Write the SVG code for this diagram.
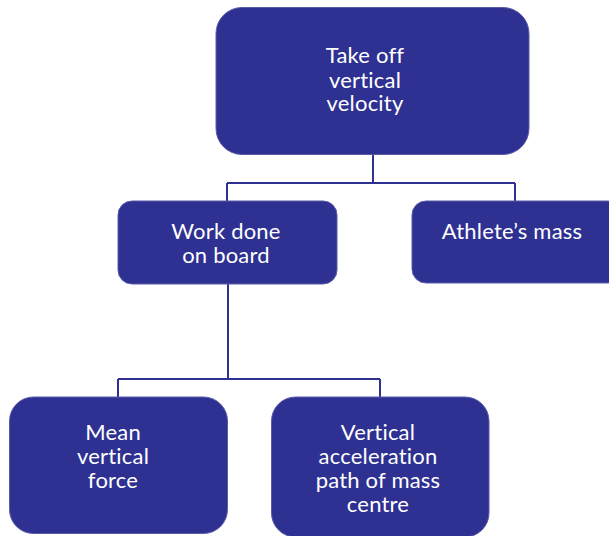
<svg xmlns="http://www.w3.org/2000/svg" width="609" height="536" viewBox="0 0 609 536">
<style>
.box{fill:#2E3192;stroke:#5a5ca8;stroke-width:1}
.t{font-family:Lato,"Open Sans",sans-serif;font-size:22px;letter-spacing:0.2px;fill:#ffffff;text-anchor:middle}
.c{fill:none;stroke:#2E3192;stroke-width:2}
</style>
<rect width="609" height="536" fill="#ffffff"/>
<g id="connectors">
<path class="c" d="M373 154V183M227 183H515M227 183V201M515 183V201"/>
<path class="c" d="M228 284V379M118 379H380M118 379V397M380 379V397"/>
</g>
<g id="n1">
<rect class="box" x="216" y="7.5" width="313" height="147" rx="26"/>
<text class="t" x="365" y="63">Take off</text>
<text class="t" x="365" y="88">vertical</text>
<text class="t" x="365" y="111">velocity</text>
</g>
<g id="n2">
<rect class="box" x="118" y="201" width="219" height="83" rx="14"/>
<text class="t" x="226" y="239">Work done</text>
<text class="t" x="226" y="263">on board</text>
</g>
<g id="n3">
<rect class="box" x="412" y="201" width="210" height="82" rx="14"/>
<text class="t" x="512" y="239">Athlete’s mass</text>
</g>
<g id="n4">
<rect class="box" x="9.5" y="397" width="218" height="136.5" rx="24"/>
<text class="t" x="113" y="440">Mean</text>
<text class="t" x="113" y="464">vertical</text>
<text class="t" x="113" y="488">force</text>
</g>
<g id="n5">
<rect class="box" x="271.5" y="397" width="217.5" height="140" rx="24"/>
<text class="t" x="378" y="440">Vertical</text>
<text class="t" x="378" y="464">acceleration</text>
<text class="t" x="378" y="488">path of mass</text>
<text class="t" x="378" y="512">centre</text>
</g>
</svg>
